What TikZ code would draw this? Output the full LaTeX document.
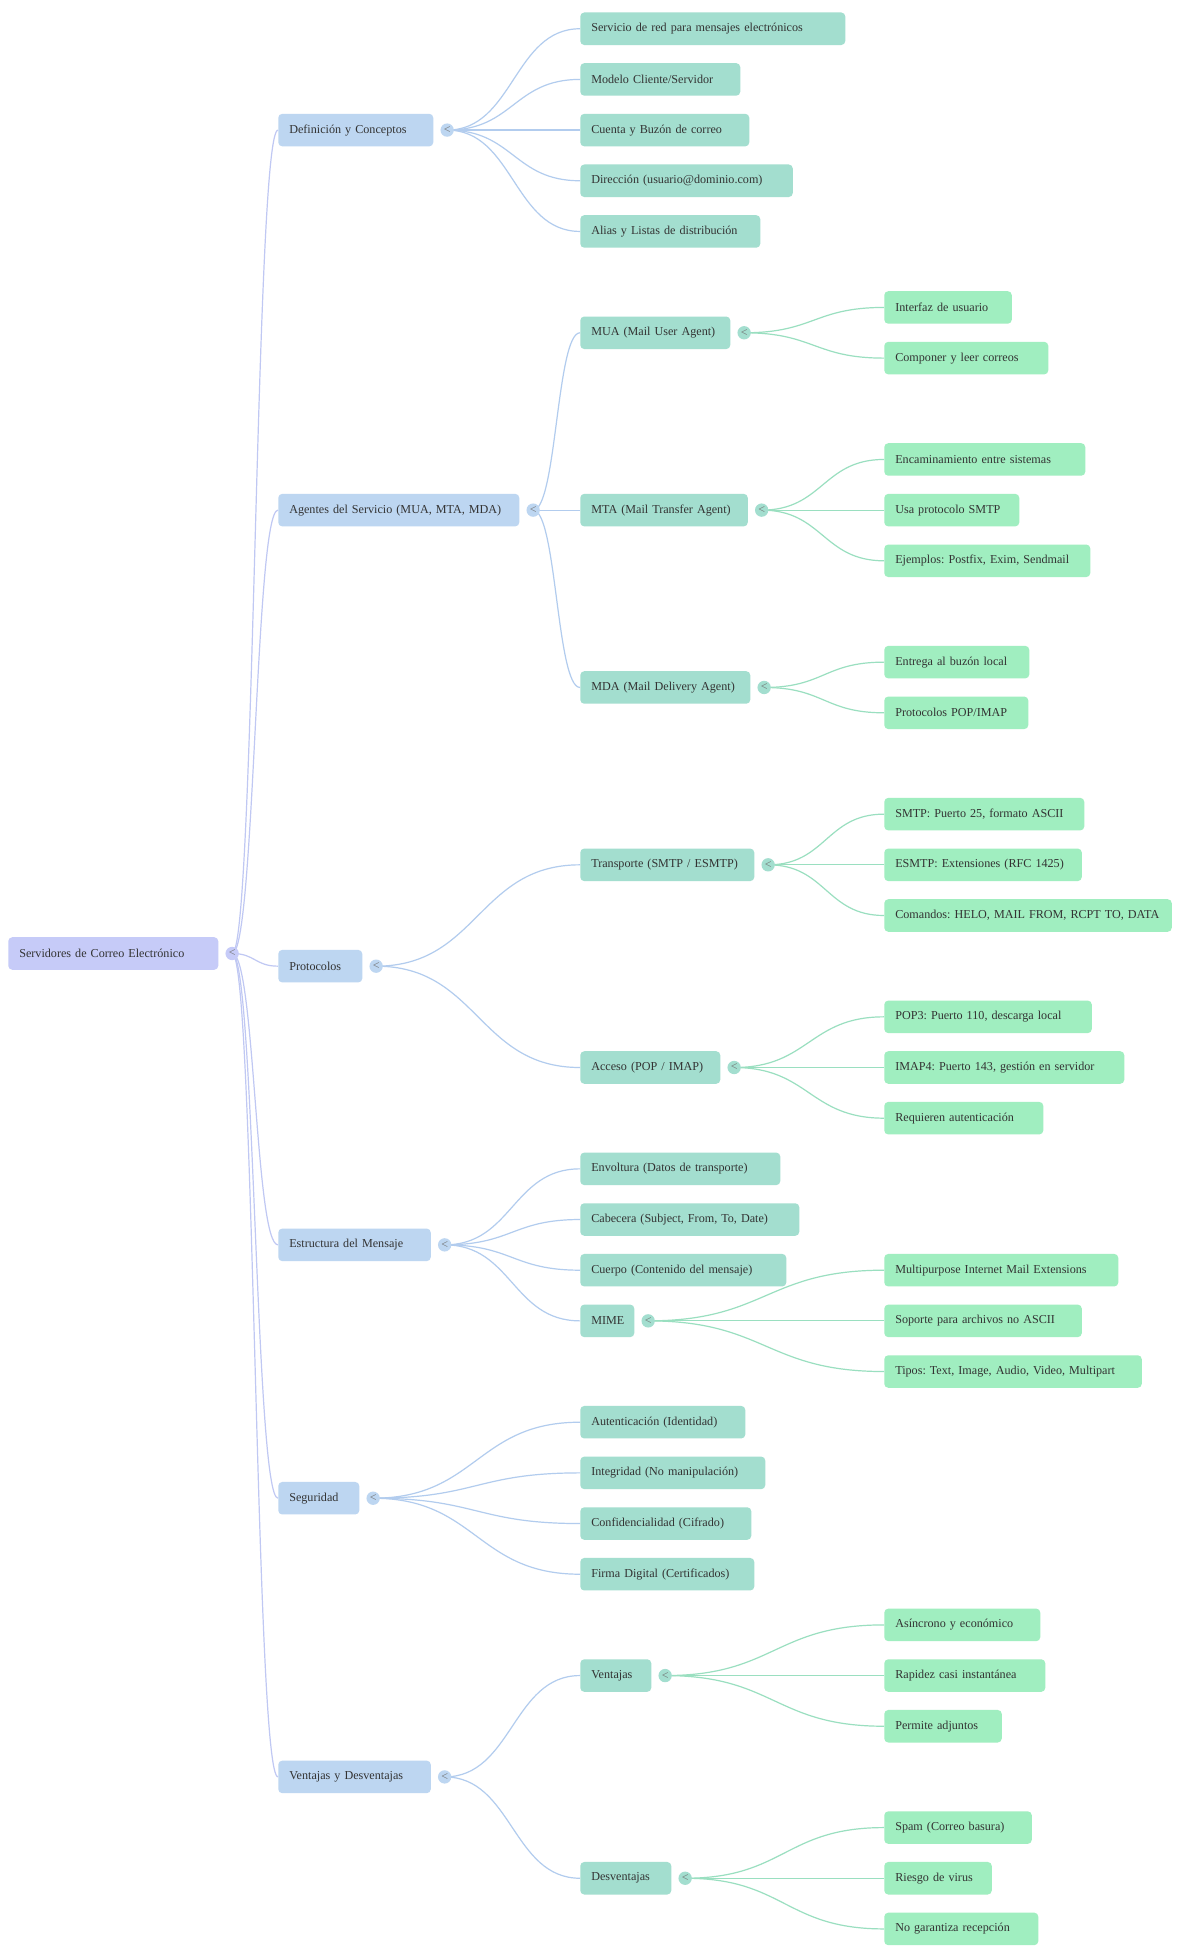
\documentclass[tikz,border=0pt]{standalone}
\usepackage{fontspec}
\setmainfont{Liberation Serif}
\usepackage{tikz}
\usetikzlibrary{calc,backgrounds,positioning}

\definecolor{rootfill}{HTML}{C6CBF8}
\definecolor{topicfill}{HTML}{BDD6F1}
\definecolor{subfill}{HTML}{A3DECF}
\definecolor{leaffill}{HTML}{A0EEC0}
\definecolor{rootline}{HTML}{C0C8F3}
\definecolor{topicline}{HTML}{B2CCEE}
\definecolor{subline}{HTML}{9ADFC0}
\definecolor{txtgray}{HTML}{333333}
\definecolor{foldgray}{HTML}{707070}

\begin{document}
\frenchspacing
\begin{tikzpicture}[
x=0.75pt, y=-38.0025pt,
wd/.code={\pgfmathsetlengthmacro\boxtw{(#1-22)*0.75pt}\tikzset{text width/.expanded=\boxtw}},
box/.style={anchor=west, rounded corners=3pt, minimum height=24.4pt, inner xsep=8.25pt, inner ysep=0pt, align=left, text=txtgray, font=\fontsize{9.1}{11}\selectfont},
rootnode/.style={box, fill=rootfill},
topicnode/.style={box, fill=topicfill},
subnode/.style={box, fill=subfill},
leafnode/.style={box, fill=leaffill},
fold/.style={circle, inner sep=0pt, minimum size=10pt, text=foldgray, font=\fontsize{9}{9}\selectfont, right=5pt of #1},
link/.style={line width=0.9pt, to path={let \p1=(\tikztostart), \p2=(\tikztotarget) in .. controls ({0.5*\x1+0.5*\x2},\y1) and ({0.5*\x1+0.5*\x2},\y2) .. (\tikztotarget)}},
rootlink/.style={link, draw=rootline},
topiclink/.style={link, draw=topicline},
sublink/.style={link, draw=subline}
]
\useasboundingbox (0,-0.5674) rectangle (1200,38.015);
% Root
\node[rootnode, wd=210]   (root)  at (8,18.25)  {Servidores de Correo Electrónico};
\node[fold=root, fill=rootfill]  (croot) {<};
% Topics
\node[topicnode, wd=155]   (defn)  at (278,2)    {Definición y Conceptos};
\node[topicnode, wd=241]   (agent) at (278,9.5)  {Agentes del Servicio (MUA, MTA, MDA)};
\node[topicnode, wd=84]    (proto) at (278,18.5) {Protocolos};
\node[topicnode, wd=152.5] (estr)  at (278,24)   {Estructura del Mensaje};
\node[topicnode, wd=81]    (segu)  at (278,29)   {Seguridad};
\node[topicnode, wd=152.5] (vent)  at (278,34.5) {Ventajas y Desventajas};
\node[fold=defn, fill=topicfill]  (cdefn)  {<};
\node[fold=agent, fill=topicfill] (cagent) {<};
\node[fold=proto, fill=topicfill] (cproto) {<};
\node[fold=estr, fill=topicfill]  (cestr)  {<};
\node[fold=segu, fill=topicfill]  (csegu)  {<};
\node[fold=vent, fill=topicfill]  (cvent)  {<};
% Definicion
\node[subnode, wd=265]   (d1) at (580,0) {Servicio de red para mensajes electrónicos};
\node[subnode, wd=160]   (d2) at (580,1) {Modelo Cliente/Servidor};
\node[subnode, wd=169]   (d3) at (580,2) {Cuenta y Buzón de correo};
\node[subnode, wd=212.5] (d4) at (580,3) {Dirección (usuario@dominio.com)};
\node[subnode, wd=180]   (d5) at (580,4) {Alias y Listas de distribución};
% Agentes
\node[subnode, wd=150]   (mua) at (580,6)   {MUA (Mail User Agent)};
\node[subnode, wd=167.5] (mta) at (580,9.5) {MTA (Mail Transfer Agent)};
\node[subnode, wd=170]   (mda) at (580,13)  {MDA (Mail Delivery Agent)};
\node[fold=mua, fill=subfill] (cmua) {<};
\node[fold=mta, fill=subfill] (cmta) {<};
\node[fold=mda, fill=subfill] (cmda) {<};
\node[leafnode, wd=127.5] (mua1) at (884,5.5)  {Interfaz de usuario};
\node[leafnode, wd=164]   (mua2) at (884,6.5)  {Componer y leer correos};
\node[leafnode, wd=201]   (mta1) at (884,8.5)  {Encaminamiento entre sistemas};
\node[leafnode, wd=135]   (mta2) at (884,9.5)  {Usa protocolo SMTP};
\node[leafnode, wd=206]   (mta3) at (884,10.5) {Ejemplos: Postfix, Exim, Sendmail};
\node[leafnode, wd=145]   (mda1) at (884,12.5) {Entrega al buzón local};
\node[leafnode, wd=144]   (mda2) at (884,13.5) {Protocolos POP/IMAP};
% Protocolos
\node[subnode, wd=174] (transp) at (580,16.5) {Transporte (SMTP / ESMTP)};
\node[subnode, wd=140] (acceso) at (580,20.5) {Acceso (POP / IMAP)};
\node[fold=transp, fill=subfill] (ctransp) {<};
\node[fold=acceso, fill=subfill] (cacceso) {<};
\node[leafnode, wd=200]   (tr1) at (884,15.5) {SMTP: Puerto 25, formato ASCII};
\node[leafnode, wd=197.5] (tr2) at (884,16.5) {ESMTP: Extensiones (RFC 1425)};
\node[leafnode, wd=287.5] (tr3) at (884,17.5) {Comandos: HELO, MAIL FROM, RCPT TO, DATA};
\node[leafnode, wd=207.5] (ac1) at (884,19.5) {POP3: Puerto 110, descarga local};
\node[leafnode, wd=240]   (ac2) at (884,20.5) {IMAP4: Puerto 143, gestión en servidor};
\node[leafnode, wd=159]   (ac3) at (884,21.5) {Requieren autenticación};
% Estructura
\node[subnode, wd=200] (es1)  at (580,22.5) {Envoltura (Datos de transporte)};
\node[subnode, wd=219] (es2)  at (580,23.5) {Cabecera (Subject, From, To, Date)};
\node[subnode, wd=206] (es3)  at (580,24.5) {Cuerpo (Contenido del mensaje)};
\node[subnode, wd=54]  (mime) at (580,25.5) {MIME};
\node[fold=mime, fill=subfill] (cmime) {<};
\node[leafnode, wd=234]   (mi1) at (884,24.5) {Multipurpose Internet Mail Extensions};
\node[leafnode, wd=197.5] (mi2) at (884,25.5) {Soporte para archivos no ASCII};
\node[leafnode, wd=257.5] (mi3) at (884,26.5) {Tipos: Text, Image, Audio, Video, Multipart};
% Seguridad
\node[subnode, wd=165] (se1) at (580,27.5) {Autenticación (Identidad)};
\node[subnode, wd=185] (se2) at (580,28.5) {Integridad (No manipulación)};
\node[subnode, wd=171] (se3) at (580,29.5) {Confidencialidad (Cifrado)};
\node[subnode, wd=174] (se4) at (580,30.5) {Firma Digital (Certificados)};
% Ventajas y Desventajas
\node[subnode, wd=71] (vpos) at (580,32.5) {Ventajas};
\node[subnode, wd=91] (vneg) at (580,36.5) {Desventajas};
\node[fold=vpos, fill=subfill] (cvpos) {<};
\node[fold=vneg, fill=subfill] (cvneg) {<};
\node[leafnode, wd=156]   (vp1) at (884,31.5) {Asíncrono y económico};
\node[leafnode, wd=161]   (vp2) at (884,32.5) {Rapidez casi instantánea};
\node[leafnode, wd=117.5] (vp3) at (884,33.5) {Permite adjuntos};
\node[leafnode, wd=147.5] (vn1) at (884,35.5) {Spam (Correo basura)};
\node[leafnode, wd=107.5] (vn2) at (884,36.5) {Riesgo de virus};
\node[leafnode, wd=154]   (vn3) at (884,37.5) {No garantiza recepción};
%Lines
\begin{scope}[on background layer]
\fill[white] (0,-0.5674) rectangle (1200,38.015);
\draw[rootlink] (croot.center) to (defn.west);
\draw[rootlink] (croot.center) to (agent.west);
\draw[rootlink] (croot.center) to (proto.west);
\draw[rootlink] (croot.center) to (estr.west);
\draw[rootlink] (croot.center) to (segu.west);
\draw[rootlink] (croot.center) to (vent.west);
\draw[topiclink] (cdefn.center) to (d1.west);
\draw[topiclink] (cdefn.center) to (d2.west);
\draw[topiclink] (cdefn.center) to (d3.west);
\draw[topiclink] (cdefn.center) to (d4.west);
\draw[topiclink] (cdefn.center) to (d5.west);
\draw[topiclink] (cagent.center) to (mua.west);
\draw[topiclink] (cagent.center) to (mta.west);
\draw[topiclink] (cagent.center) to (mda.west);
\draw[topiclink] (cproto.center) to (transp.west);
\draw[topiclink] (cproto.center) to (acceso.west);
\draw[topiclink] (cestr.center) to (es1.west);
\draw[topiclink] (cestr.center) to (es2.west);
\draw[topiclink] (cestr.center) to (es3.west);
\draw[topiclink] (cestr.center) to (mime.west);
\draw[topiclink] (csegu.center) to (se1.west);
\draw[topiclink] (csegu.center) to (se2.west);
\draw[topiclink] (csegu.center) to (se3.west);
\draw[topiclink] (csegu.center) to (se4.west);
\draw[topiclink] (cvent.center) to (vpos.west);
\draw[topiclink] (cvent.center) to (vneg.west);
\draw[sublink] (cmua.center) to (mua1.west);
\draw[sublink] (cmua.center) to (mua2.west);
\draw[sublink] (cmta.center) to (mta1.west);
\draw[sublink] (cmta.center) to (mta2.west);
\draw[sublink] (cmta.center) to (mta3.west);
\draw[sublink] (cmda.center) to (mda1.west);
\draw[sublink] (cmda.center) to (mda2.west);
\draw[sublink] (ctransp.center) to (tr1.west);
\draw[sublink] (ctransp.center) to (tr2.west);
\draw[sublink] (ctransp.center) to (tr3.west);
\draw[sublink] (cacceso.center) to (ac1.west);
\draw[sublink] (cacceso.center) to (ac2.west);
\draw[sublink] (cacceso.center) to (ac3.west);
\draw[sublink] (cmime.center) to (mi1.west);
\draw[sublink] (cmime.center) to (mi2.west);
\draw[sublink] (cmime.center) to (mi3.west);
\draw[sublink] (cvpos.center) to (vp1.west);
\draw[sublink] (cvpos.center) to (vp2.west);
\draw[sublink] (cvpos.center) to (vp3.west);
\draw[sublink] (cvneg.center) to (vn1.west);
\draw[sublink] (cvneg.center) to (vn2.west);
\draw[sublink] (cvneg.center) to (vn3.west);
\end{scope}

\end{tikzpicture}
\end{document}
